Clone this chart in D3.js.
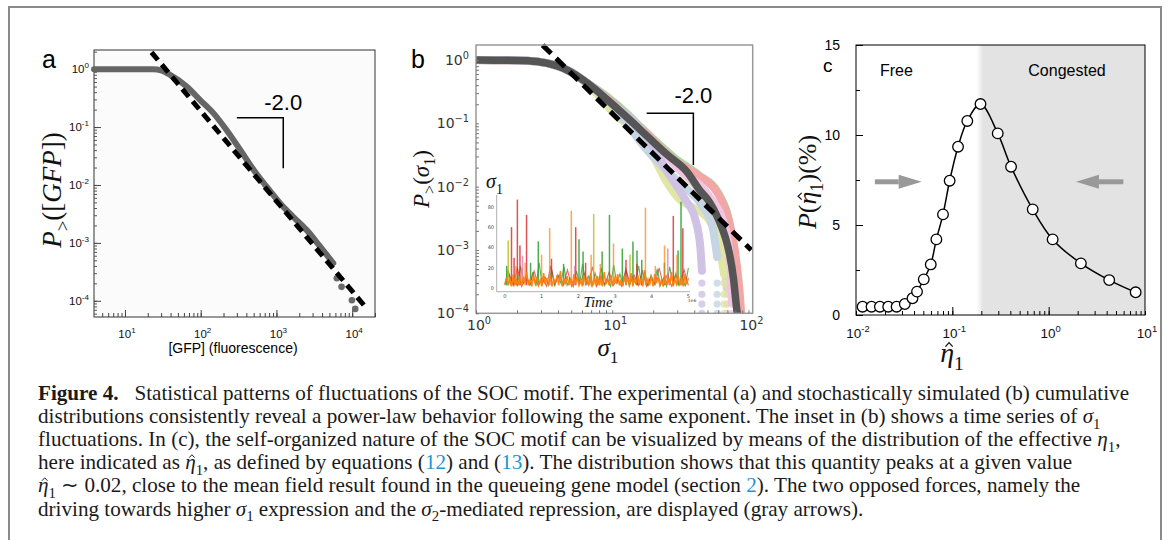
<!DOCTYPE html>
<html>
<head>
<meta charset="utf-8">
<script src="https://cdn.jsdelivr.net/npm/d3@7"></script>
<style>
  body { margin: 0; background: #fff; }
  svg { display: block; }
</style>
</head>
<body>
<div id="container"></div>
<script>
let w = 1170;
let h = 540;

// ---------- DATA ----------
// panel a : cumulative distribution of GFP fluorescence
let gfpX = [3.9, 23.7, 30, 39.4, 65.3, 97.7, 147, 219, 331, 501, 741, 1122, 1660, 2512, 3802, 5623];
let gfpP = [1, 1, 0.95, 0.798, 0.501, 0.295, 0.174, 0.0891, 0.0407, 0.0182, 0.00933, 0.00479, 0.00282, 0.00166, 0.000851, 0.000447];
let gfpDotX = [6266, 7244, 9908, 10965];
let gfpDotP = [0.000245, 0.000174, 0.000102, 0.0000724];
let fitAX = [22.4, 15488];
let fitAP = [1.95, 0.0000741];
let slopeAX = [300, 1230];
let slopeAP = [0.145, 0.0194];

// panel b : simulated cumulative distributions of sigma1
let headSigma = [1, 2.39, 3.31, 4.68, 6.56];
let headP = [1, 0.977, 0.891, 0.692, 0.432];
let meanSigma = [9.18, 12.9, 18.0, 25.1, 35.5, 44.7, 50.1, 60.3, 67.6, 72.4, 77.6, 82.2, 84.1];
let meanP = [0.237, 0.123, 0.0631, 0.0324, 0.017, 0.00832, 0.00631, 0.00302, 0.00158, 0.000891, 0.000355, 0.000112, 0.0000794];
let greenSigma = [9.18, 12.9, 16.1, 28.6, 42.8, 60.7, 74.3, 78.5];
let greenP = [0.263, 0.141, 0.0881, 0.0286, 0.0154, 0.00759, 0.00204, 0.000324];
let redSigma = [9.18, 12.9, 16.1, 28.6, 45.5, 55, 63.1, 72.1, 79.4, 85.1, 88.3, 89];
let redP = [0.25, 0.13, 0.0843, 0.0263, 0.0138, 0.01, 0.0063, 0.00282, 0.001, 0.000282, 0.0001, 0.00007];
let pinkSigma = [9.18, 18.0, 32.1, 51.1, 68.1, 74.3, 75.5];
let pinkP = [0.237, 0.0631, 0.0174, 0.00724, 0.00209, 0.000468, 0.00015];
let yellowSigma = [8.0, 10.3, 16.1, 20.1, 25.2, 31.6, 38.3, 51.1, 60.7, 66.1];
let yellowP = [0.27, 0.144, 0.0617, 0.0295, 0.0117, 0.00617, 0.00479, 0.00302, 0.00126, 0.000417];
let purpleSigma = [9.18, 18.0, 25.1, 34.0, 40.6, 44.3, 45.5];
let purpleP = [0.237, 0.06, 0.0178, 0.00646, 0.00309, 0.00112, 0.000468];
let blueSigma = [9.18, 19.1, 31.6, 45.5, 54.2, 58.9];
let blueP = [0.237, 0.0327, 0.0112, 0.00501, 0.0024, 0.000776];
let tanSigma = [9.18, 18.0, 30.0, 45.0, 56.2, 66.1, 69.2];
let tanP = [0.237, 0.0631, 0.02, 0.0075, 0.0025, 0.0007, 0.00025];
let tailP = [0.0003, 0.0002, 0.00014, 0.0001];
let fitBX = [3.08, 104.7];
let fitBP = [1.72, 0.001];
let slopeBX = [17.9, 39.4];
let slopeBP = [0.144, 0.0219];

// inset : sigma1 time series (time in units of 1e6)
let orangeNoise = [4,11,3,9,2,14,4,8,3,12,2,10,5,16,3,9,2,13,4,11,3,8,2,15,4,10,3,12,2,9,5,13,3,17,2,10,4,12,3,9,2,14,4,11,3,8,2,13,5,10,3,15,2,9,4,12,3,11,2,16,4,9,3,13,2,10,5,14,3,8,2,12,4,11,3,15,2,9,4,13,3,10,2,18,4,9,3,12,2,14,5,11,3,8,2,13,4,10,3,16,2,9,4,12,3,11,2,14,4,10];
let greenNoise = [3,18,4,12,2,22,5,9,3,16,2,25,4,11,3,19,2,13,5,21,3,10,2,17,4,24,3,12,2,15,5,20,3,9,2,23,4,14,3,18,2,11,5,22,3,16,2,13,4,19,3,10,2,21,5,15,3,12,2,20];
let redNoise = [4,14,3,20,2,12,5,17,3,10,2,22,4,13,3,18,2,11,5,15,3,21,2,12,4,16,3,9,2,19,5,13,3,17,2,11,4,20,3,14,2,12,5,18,3];
let redSpikes = [[0.18,60],[0.25,30],[0.34,87],[0.41,42],[0.59,72],[1.27,29],[1.93,60],[2.2,25],[3.3,28],[3.6,24],[4.59,71],[4.85,59]];
let greenSpikes = [[0.05,22],[0.7,25],[0.91,46],[1.6,24],[2.02,48],[2.13,36],[2.65,36],[2.85,72],[3.2,39],[3.49,46],[3.6,37],[3.73,28],[4.35,25],[4.72,37],[4.8,85]];
let orangeSpikes = [[0.3,22],[0.55,25],[1.0,33],[1.22,59],[1.81,76],[2.35,33],[2.6,24],[2.96,44],[3.83,79],[4.1,22],[4.35,42],[4.69,33]];
let yellowSpikes = [[0.09,47],[0.47,20],[2.42,73],[3.41,33]];
let pinkSpikes = [[0.48,32],[1.9,22],[4.44,39]];
let insetXTicks = [0, 1, 2, 3, 4, 5];
let insetYTicks = [0, 20, 40, 60, 80];

// panel c : distribution of effective eta1
let etaX = [0.0117,0.0145,0.0177,0.0216,0.0264,0.0321,0.0386,0.043,0.0505,0.0597,0.0683,0.080,0.0938,0.1146,0.143,0.196,0.296,0.407,0.683,1.10,2.16,4.25,8.0];
let etaP = [0.46,0.46,0.46,0.46,0.46,0.61,0.93,1.3,1.98,2.81,4.2,5.59,7.46,9.35,10.78,11.72,10.09,8.24,5.87,4.2,2.87,1.94,1.26];
let congestedFrom = 0.205;
let arrowFrom = [0.0157, 5.96];
let arrowTo = [0.0481, 1.92];
let arrowLevel = 7.4;
let cYTicks = [0, 5, 10, 15];
let cYMinor = [2.5, 7.5, 12.5];

// ---------- SVG ----------
let viz = d3.select("#container").append("svg")
    .attr("width", w)
    .attr("height", h)
    .style("background-color", "#fff");

let defs = viz.append("defs");

// outer frame of the figure box
viz.append("rect")
  .attr("x", 9).attr("y", 7)
  .attr("width", 1152).attr("height", 580)
  .attr("fill", "none").attr("stroke", "#8a8a8a").attr("stroke-width", 2);

let sans = "'Liberation Sans', Arial, sans-serif";
let serif = "'Liberation Serif', 'Times New Roman', serif";

// writes a text made of parts {t, i, b, sub, sup, fill, hat}
function rich(g, x, y, parts, fs, family, anchor, rot) {
  let wrap = g.append("g").attr("transform", "translate(" + x + "," + y + ")" + (rot ? " rotate(" + rot + ")" : ""));
  let t = wrap.append("text")
    .attr("font-size", fs)
    .attr("font-family", family)
    .attr("text-anchor", anchor || "start")
    .attr("fill", "#111");
  let shift = 0, idx = 0, hats = [];
  parts.forEach(function(p){
    let target = 0;
    if (p.sub) target = fs * 0.28;
    if (p.sup) target = -fs * 0.42;
    let ts = t.append("tspan").text(p.t).attr("dy", target - shift);
    shift = target;
    if (p.sub || p.sup) ts.attr("font-size", fs * 0.7);
    if (p.i) ts.attr("font-style", "italic");
    if (p.b) ts.attr("font-weight", "bold");
    if (p.fill) ts.attr("fill", p.fill);
    if (p.hat) hats.push(idx);
    idx += p.t.length;
  });
  hats.forEach(function(k){
    let ext = t.node().getExtentOfChar(k);
    let cx = ext.x + ext.width * 0.5 + fs * 0.07;
    let hw = fs * 0.13;
    wrap.append("path")
      .attr("d", "M" + (cx - hw) + "," + (-fs * 0.55) + "L" + cx + "," + (-fs * 0.69) + "L" + (cx + hw) + "," + (-fs * 0.55))
      .attr("fill", "none").attr("stroke", "#111").attr("stroke-width", fs * 0.045);
  });
  return t;
}

function power(g, x, y, e, fs, family, anchor, color) {
  let t = rich(g, x, y, [{t: "10"}, {t: e, sup: 1}], fs, family, anchor);
  t.attr("fill", color || "#111");
  return t;
}

function styleTicks(color) {
  return function(a){ a.select(".domain").remove(); a.selectAll("line").attr("stroke", color); };
}

// ---------- PANEL A ----------
let xA = d3.scaleLog().domain([3.9, 20000]).range([94, 375]);
let yA = d3.scaleLog().domain([0.0000525, 2.14]).range([317, 50]);
let gA = viz.append("g").attr("class", "panelA");

gA.append("rect").attr("x", 94).attr("y", 50).attr("width", 281).attr("height", 267)
  .attr("fill", "#fbfbfb").attr("stroke", "#333").attr("stroke-width", 1);

gA.append("g").attr("transform", "translate(0,317)")
  .call(d3.axisBottom(xA).tickValues(xA.ticks().filter(function(d){ return d > 4; })).tickSize(-4).tickFormat(""))
  .call(styleTicks("#444"));
gA.append("g").attr("transform", "translate(0,317)")
  .call(d3.axisBottom(xA).tickValues([10, 100, 1000, 10000]).tickSize(-7).tickFormat(""))
  .call(styleTicks("#444"));
gA.append("g").attr("transform", "translate(94,0)")
  .call(d3.axisLeft(yA).tickValues(yA.ticks()).tickSize(-3).tickFormat(""))
  .call(styleTicks("#555"));
gA.append("g").attr("transform", "translate(94,0)")
  .call(d3.axisLeft(yA).tickValues([1, 0.1, 0.01, 0.001, 0.0001]).tickSize(-7).tickFormat(""))
  .call(styleTicks("#444"));

[[1,"0"],[0.1,"-1"],[0.01,"-2"],[0.001,"-3"],[0.0001,"-4"]].forEach(function(d){
  power(gA, 89, yA(d[0]) + 4, d[1], 11.5, sans, "end");
});
[[10,"1"],[100,"2"],[1000,"3"],[10000,"4"]].forEach(function(d){
  power(gA, xA(d[0]) + 2, 338, d[1], 11.5, sans, "middle");
});

gA.append("path")
  .datum(gfpX.map(function(d,i){ return [d, gfpP[i]]; }))
  .attr("d", d3.line().x(function(d){ return xA(d[0]); }).y(function(d){ return yA(d[1]); }).curve(d3.curveMonotoneX))
  .attr("fill", "none").attr("stroke", "#666").attr("stroke-width", 6).attr("stroke-linecap", "round");

gA.selectAll(".gfpdot").data(gfpDotX).enter().append("circle")
  .attr("class", "gfpdot")
  .attr("cx", function(d){ return xA(d); })
  .attr("cy", function(d,i){ return yA(gfpDotP[i]); })
  .attr("r", 3.3).attr("fill", "#6a6a6a");

gA.append("line")
  .attr("x1", xA(fitAX[0])).attr("y1", yA(fitAP[0]))
  .attr("x2", xA(fitAX[1])).attr("y2", yA(fitAP[1]))
  .attr("stroke", "#000").attr("stroke-width", 5).attr("stroke-dasharray", "10,6");

gA.append("path")
  .attr("d", "M" + xA(slopeAX[0]) + "," + yA(slopeAP[0]) + "H" + xA(slopeAX[1]) + "V" + yA(slopeAP[1]))
  .attr("fill", "none").attr("stroke", "#000").attr("stroke-width", 1.5);
gA.append("text").attr("x", xA(slopeAX[1])).attr("y", yA(slopeAP[0]) - 8)
  .attr("text-anchor", "middle").attr("font-family", sans).attr("font-size", 22).text("-2.0");

gA.append("text").attr("x", 42).attr("y", 68).attr("font-family", sans).attr("font-size", 25).text("a");
gA.append("text").attr("x", 233).attr("y", 353).attr("text-anchor", "middle")
  .attr("font-family", sans).attr("font-size", 14).text("[GFP] (fluorescence)");
rich(gA, 61, 190, [{t:"P", i:1}, {t:">", sub:1}, {t:"(["}, {t:"GFP", i:1}, {t:"])"}], 27, serif, "middle", -90);

// ---------- PANEL B ----------
let xB = d3.scaleLog().domain([1, 107.4]).range([476, 752.7]);
let yB = d3.scaleLog().domain([0.0001, 1.726]).range([313.3, 45]);
let gB = viz.append("g").attr("class", "panelB");

defs.append("clipPath").attr("id", "clipB").append("rect")
  .attr("x", 476).attr("y", 45).attr("width", 276.7).attr("height", 268.3);

let lineB = d3.line().x(function(d){ return xB(d[0]); }).y(function(d){ return yB(d[1]); }).curve(d3.curveMonotoneX);

// pale (already faded) run colours, drawn opaque so overlaps stay clean
let runs = [
  {sigma: tanSigma, p: tanP, color: "#e2d3c4", tail: true},
  {sigma: yellowSigma, p: yellowP, color: "#e1e6a4", tail: true},
  {sigma: greenSigma, p: greenP, color: "#abd9a6", tail: false},
  {sigma: redSigma, p: redP, color: "#f2a6a6", tail: false},
  {sigma: pinkSigma, p: pinkP, color: "#f1c4e2", tail: true},
  {sigma: blueSigma, p: blueP, color: "#c6d5e3", tail: true},
  {sigma: purpleSigma, p: purpleP, color: "#cfc2e4", tail: true}
];

let curvesB = gB.append("g").attr("clip-path", "url(#clipB)");

runs.forEach(function(r){
  let pts = headSigma.map(function(d,i){ return [d, headP[i]]; })
    .filter(function(d){ return d[0] < r.sigma[0]; })
    .concat(r.sigma.map(function(d,i){ return [d, r.p[i]]; }));
  curvesB.append("path").datum(pts).attr("d", lineB)
    .attr("fill", "none").attr("stroke", r.color)
    .attr("stroke-width", 8).attr("stroke-linecap", "round");
  if (r.tail) {
    let last = r.sigma[r.sigma.length - 1];
    curvesB.selectAll(null).data(tailP.filter(function(p){ return p < r.p[r.p.length - 1]; })).enter().append("circle")
      .attr("cx", xB(last)).attr("cy", function(p){ return yB(p); })
      .attr("r", 3.6).attr("fill", r.color).attr("fill-opacity", 0.8);
  }
});

curvesB.append("path")
  .datum(headSigma.map(function(d,i){ return [d, headP[i]]; }).concat(meanSigma.map(function(d,i){ return [d, meanP[i]]; })))
  .attr("d", lineB)
  .attr("fill", "none").attr("stroke", "#555").attr("stroke-width", 7.5);

gB.append("line")
  .attr("x1", xB(fitBX[0])).attr("y1", yB(fitBP[0]))
  .attr("x2", xB(fitBX[1])).attr("y2", yB(fitBP[1]))
  .attr("stroke", "#000").attr("stroke-width", 5).attr("stroke-dasharray", "12,7");

gB.append("rect").attr("x", 476).attr("y", 45).attr("width", 276.7).attr("height", 268.3)
  .attr("fill", "none").attr("stroke", "#999").attr("stroke-width", 1.5);

gB.append("g").attr("transform", "translate(0,313.3)")
  .call(d3.axisBottom(xB).tickValues(xB.ticks()).tickSize(-3).tickFormat(""))
  .call(styleTicks("#777"));
gB.append("g").attr("transform", "translate(476,0)")
  .call(d3.axisLeft(yB).tickValues(yB.ticks()).tickSize(-3).tickFormat(""))
  .call(styleTicks("#777"));

[[1,"0"],[0.1,"\u22121"],[0.01,"\u22122"],[0.001,"\u22123"],[0.0001,"\u22124"]].forEach(function(d){
  power(gB, 469, yB(d[0]) + 5, d[1], 14, "'DejaVu Sans', sans-serif", "end", "#333");
});
[[1,"0"],[10,"1"],[100,"2"]].forEach(function(d){
  power(gB, xB(d[0]) + 3, 330, d[1], 14, "'DejaVu Sans', sans-serif", "middle", "#333");
});

gB.append("path")
  .attr("d", "M" + xB(slopeBX[0]) + "," + yB(slopeBP[0]) + "H" + xB(slopeBX[1]) + "V" + yB(slopeBP[1]))
  .attr("fill", "none").attr("stroke", "#000").attr("stroke-width", 1.5);
gB.append("text").attr("x", xB(slopeBX[1])).attr("y", yB(slopeBP[0]) - 10)
  .attr("text-anchor", "middle").attr("font-family", sans).attr("font-size", 22).text("-2.0");

gB.append("text").attr("x", 411).attr("y", 68).attr("font-family", sans).attr("font-size", 25).text("b");
rich(gB, 608, 356, [{t:"\u03c3", i:1}, {t:"1", sub:1}], 25, serif, "middle");
rich(gB, 429, 179, [{t:"P", i:1}, {t:">", sub:1}, {t:"("}, {t:"\u03c3", i:1}, {t:"1", sub:1}, {t:")"}], 23, serif, "middle", -90);

// inset time series
let xI = d3.scaleLinear().domain([-0.27, 5.045]).range([495, 690]);
let yI = d3.scaleLinear().domain([-3.3, 91.5]).range([291.7, 195]);
let gI = gB.append("g").attr("class", "inset");

function noisePath(vals, color, op, sw) {
  gI.append("path")
    .datum(vals)
    .attr("d", d3.line()
      .x(function(d,i){ return xI(5 * i / (vals.length - 1)); })
      .y(function(d){ return yI(d); }))
    .attr("fill", "none").attr("stroke", color).attr("stroke-opacity", op).attr("stroke-width", sw);
}
function spikes(list, color, op) {
  gI.selectAll(null).data(list).enter().append("line")
    .attr("x1", function(d){ return xI(d[0]); }).attr("x2", function(d){ return xI(d[0]); })
    .attr("y1", yI(3)).attr("y2", function(d){ return yI(d[1]); })
    .attr("stroke", color).attr("stroke-opacity", op).attr("stroke-width", 1.5);
}
noisePath(greenNoise, "#2ca02c", 0.8, 1.1);
noisePath(redNoise, "#d62728", 0.7, 1.1);
spikes(greenSpikes, "#2ca02c", 0.85);
spikes(redSpikes, "#d62728", 0.8);
spikes(yellowSpikes, "#bcbd22", 0.85);
spikes(pinkSpikes, "#e377c2", 0.8);
spikes(orangeSpikes, "#ff7f0e", 0.7);
noisePath(orangeNoise, "#ff7f0e", 0.95, 1.5);

gI.append("path").attr("d", "M496.7,195V291.7H690")
  .attr("fill", "none").attr("stroke", "#999").attr("stroke-width", 0.8);
gI.selectAll(".ity").data(insetYTicks).enter().append("text")
  .attr("x", 494).attr("y", function(d){ return yI(d) + 1.8; })
  .attr("text-anchor", "end").attr("font-family", "'DejaVu Sans', sans-serif").attr("font-size", 5).attr("fill", "#444")
  .text(function(d){ return d; });
gI.selectAll(".itx").data(insetXTicks).enter().append("text")
  .attr("x", function(d){ return xI(d); }).attr("y", 298)
  .attr("text-anchor", "middle").attr("font-family", "'DejaVu Sans', sans-serif").attr("font-size", 5).attr("fill", "#444")
  .text(function(d){ return d; });
gI.append("text").attr("x", 692).attr("y", 302).attr("text-anchor", "middle")
  .attr("font-family", "'DejaVu Sans', sans-serif").attr("font-size", 4.5).attr("fill", "#444").text("1e6");
rich(gI, 598, 307, [{t:"Time", i:1}], 15, serif, "middle");
rich(gI, 486, 188, [{t:"\u03c3", i:1}, {t:"1", sub:1}], 20, serif, "start");

// ---------- PANEL C ----------
let xC = d3.scaleLog().domain([0.01, 10]).range([856, 1145]);
let yC = d3.scaleLinear().domain([0, 15]).range([315, 45]);
let gC = viz.append("g").attr("class", "panelC");

let grad = defs.append("linearGradient").attr("id", "edgeC");
grad.append("stop").attr("offset", "0%").attr("stop-color", "#e3e3e3").attr("stop-opacity", 0);
grad.append("stop").attr("offset", "100%").attr("stop-color", "#e3e3e3").attr("stop-opacity", 1);

gC.append("rect").attr("x", xC(congestedFrom) - 6).attr("y", 45).attr("width", 7).attr("height", 270)
  .attr("fill", "url(#edgeC)");
gC.append("rect").attr("x", xC(congestedFrom)).attr("y", 45)
  .attr("width", 1145 - xC(congestedFrom)).attr("height", 270).attr("fill", "#e3e3e3");

gC.append("rect").attr("x", 856).attr("y", 45).attr("width", 289).attr("height", 270)
  .attr("fill", "none").attr("stroke", "#000").attr("stroke-width", 1);

gC.append("g").attr("transform", "translate(0,315)")
  .call(d3.axisBottom(xC).tickValues(xC.ticks()).tickSize(-4).tickFormat(""))
  .call(styleTicks("#000"));
gC.append("g").attr("transform", "translate(0,315)")
  .call(d3.axisBottom(xC).tickValues([0.1, 1]).tickSize(-8).tickFormat(""))
  .call(styleTicks("#000"));
gC.append("g").attr("transform", "translate(856,0)")
  .call(d3.axisLeft(yC).tickValues(cYTicks).tickSize(-7).tickFormat(""))
  .call(styleTicks("#000"));
gC.append("g").attr("transform", "translate(856,0)")
  .call(d3.axisLeft(yC).tickValues(cYMinor).tickSize(-4).tickFormat(""))
  .call(styleTicks("#000"));

gC.selectAll(".cyl").data(cYTicks).enter().append("text")
  .attr("x", 840).attr("y", function(d){ return yC(d) + 5; })
  .attr("text-anchor", "end").attr("font-family", sans).attr("font-size", 14)
  .text(function(d){ return d; });
[[0.01,"-2"],[0.1,"-1"],[1,"0"],[10,"1"]].forEach(function(d){
  power(gC, xC(d[0]) + 2, 338, d[1], 13.5, sans, "middle");
});

let arrowW = 7;
arrowFrom.forEach(function(f, i){
  let x0 = xC(f), x1 = xC(arrowTo[i]), y = yC(arrowLevel);
  let dir = x1 > x0 ? 1 : -1;
  let headBase = x1 - dir * 23;
  gC.append("line").attr("x1", x0).attr("x2", headBase).attr("y1", y).attr("y2", y)
    .attr("stroke", "#999").attr("stroke-width", 5);
  gC.append("path")
    .attr("d", "M" + headBase + "," + (y - arrowW) + "L" + x1 + "," + y + "L" + headBase + "," + (y + arrowW) + "Z")
    .attr("fill", "#999");
});

gC.append("path")
  .datum(etaX.map(function(d,i){ return [d, etaP[i]]; }))
  .attr("d", d3.line().x(function(d){ return xC(d[0]); }).y(function(d){ return yC(d[1]); }).curve(d3.curveCatmullRom))
  .attr("fill", "none").attr("stroke", "#000").attr("stroke-width", 1.5);

gC.selectAll(".etadot").data(etaX).enter().append("circle")
  .attr("class", "etadot")
  .attr("cx", function(d){ return xC(d); })
  .attr("cy", function(d,i){ return yC(etaP[i]); })
  .attr("r", 5.3).attr("fill", "#fff").attr("stroke", "#000").attr("stroke-width", 1.3);

gC.append("text").attr("x", 880).attr("y", 76).attr("font-family", sans).attr("font-size", 16).text("Free");
gC.append("text").attr("x", 1067).attr("y", 76).attr("text-anchor", "middle").attr("font-family", sans).attr("font-size", 16).text("Congested");
gC.append("text").attr("x", 823).attr("y", 72).attr("font-family", sans).attr("font-size", 19).text("c");

rich(gC, 952, 362, [{t:"\u03b7", i:1, hat:1}, {t:"1", sub:1}], 28, serif, "middle");
rich(gC, 816, 182, [{t:"P", i:1}, {t:"("}, {t:"\u03b7", i:1, hat:1}, {t:"1", sub:1}, {t:")(%)"}], 26, serif, "middle", -90);

// ---------- CAPTION ----------
let blue = "#1c95d3";
let capLines = [
  [{t:"Figure 4.", b:1}, {t:"\u2002 Statistical patterns of fluctuations of the SOC motif. The experimental (a) and stochastically simulated (b) cumulative"}],
  [{t:"distributions consistently reveal a power-law behavior following the same exponent. The inset in (b) shows a time series of "}, {t:"\u03c3", i:1}, {t:"1", sub:1}],
  [{t:"fluctuations. In (c), the self-organized nature of the SOC motif can be visualized by means of the distribution of the effective "}, {t:"\u03b7", i:1}, {t:"1", sub:1}, {t:","}],
  [{t:"here indicated as "}, {t:"\u03b7", i:1, hat:1}, {t:"1", sub:1}, {t:", as defined by equations ("}, {t:"12", fill: blue}, {t:") and ("}, {t:"13", fill: blue}, {t:"). The distribution shows that this quantity peaks at a given value"}],
  [{t:"\u03b7", i:1, hat:1}, {t:"1", sub:1}, {t:" \u223c 0.02, close to the mean field result found in the queueing gene model (section "}, {t:"2", fill: blue}, {t:"). The two opposed forces, namely the"}],
  [{t:"driving towards higher "}, {t:"\u03c3", i:1}, {t:"1", sub:1}, {t:" expression and the "}, {t:"\u03c3", i:1}, {t:"2", sub:1}, {t:"-mediated repression, are displayed (gray arrows)."}]
];
// measure the first line, then fit the font to the reference width
let probe = rich(viz, 38, 400, capLines[0], 18, serif, "start");
let fs = 18 * 1092 / probe.node().getComputedTextLength();
probe.node().parentNode.remove();
let gT = viz.append("g").attr("class", "caption");
capLines.forEach(function(parts, i){
  rich(gT, 38, 400 + i * 23.1, parts, fs, serif, "start").attr("fill", "#1a1a1a");
});
</script>
</body>
</html>
